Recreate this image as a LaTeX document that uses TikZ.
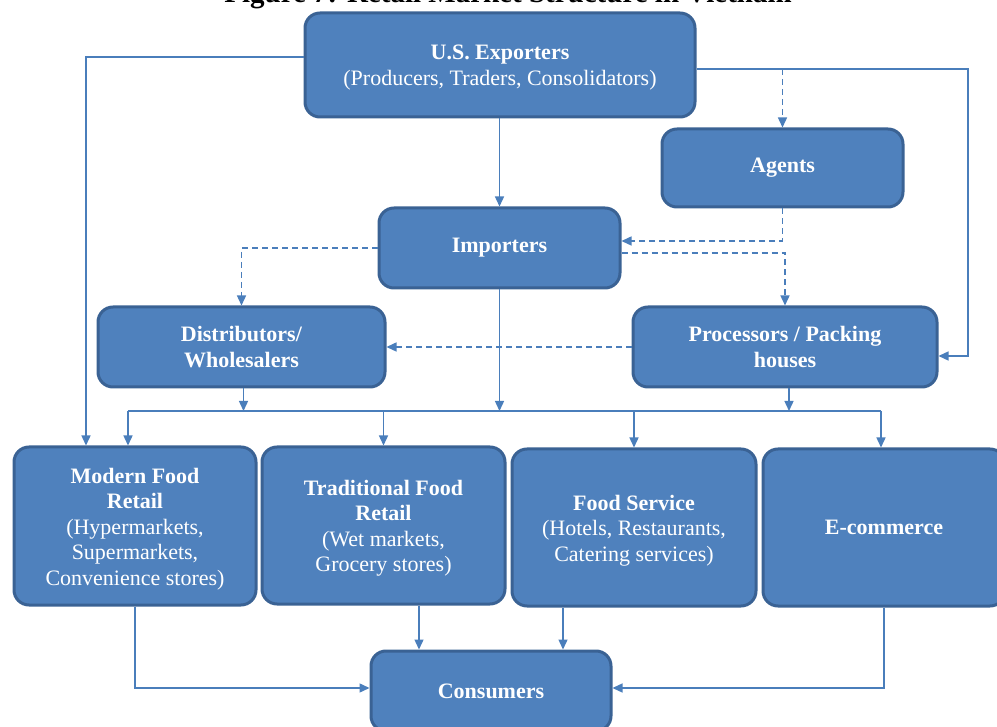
\documentclass[tikz,border=0pt]{standalone}
\usepackage{fontspec}
\setmainfont{Liberation Serif}
\usetikzlibrary{arrows.meta}
\definecolor{boxfill}{HTML}{4F81BD}
\definecolor{boxline}{HTML}{3A6294}
\definecolor{conncol}{HTML}{4A7EBB}
\tikzset{
  box/.style={draw=boxline, line width=3pt, fill=boxfill, rounded corners=15pt,
    text=white, align=center, inner sep=2pt,
    font=\fontsize{22}{25.5}\selectfont},
  conn/.style={draw=conncol, line width=1.4pt, -{Triangle[length=10pt,width=9pt]}},
  plainconn/.style={draw=conncol, line width=1.4pt},
  dconn/.style={conn, dash pattern=on 6pt off 4pt},
}
\begin{document}
\begin{tikzpicture}[x=1pt, y=-1pt]
\useasboundingbox (0,0) rectangle (997,727);
\clip (0,0) rectangle (997,727);

\node[anchor=base, font=\bfseries\fontsize{29}{32}\selectfont] (title) at (508,3) {Figure 7: Retail Market Structure in Vietnam};

\node[box, minimum width=390pt, minimum height=104pt] (exp) at (500,65)
  {\rule{0pt}{20pt}\textbf{U.S. Exporters}\\(Producers, Traders, Consolidators)};
\node[box, minimum width=241pt, minimum height=78pt] (agents) at (782.5,168) {\textbf{Agents}};
\node[box, minimum width=241pt, minimum height=80pt] (imp) at (499.5,248) {\textbf{Importers}};
\node[box, minimum width=287pt, minimum height=80pt] (dist) at (241.5,347) {\textbf{Distributors/}\\\textbf{Wholesalers}};
\node[box, minimum width=304pt, minimum height=80pt] (proc) at (785,347) {\textbf{Processors / Packing}\\\textbf{houses}};
\node[box, minimum width=242pt, minimum height=158pt] (modern) at (135,526)
  {\rule{0pt}{21pt}\textbf{Modern Food}\\\textbf{Retail}\\(Hypermarkets,\\Supermarkets,\\Convenience stores)};
\node[box, minimum width=243pt, minimum height=157pt] (trad) at (383.5,525.5)
  {\rule{0pt}{21pt}\textbf{Traditional Food}\\\textbf{Retail}\\(Wet markets,\\Grocery stores)};
\node[box, minimum width=244pt, minimum height=157pt] (fs) at (634,527.5)
  {\rule{0pt}{21pt}\textbf{Food Service}\\(Hotels, Restaurants,\\Catering services)};
\node[box, minimum width=242pt, minimum height=157pt] (ecom) at (884,527.5) {\textbf{E-commerce}};
\node[box, minimum width=240pt, minimum height=80pt] (cons) at (491,691) {\textbf{Consumers}};

% helper coordinates
\coordinate (r1) at (968,69);
\coordinate (r2) at (968,356);
\coordinate (b1) at (128,411);
\coordinate (b4) at (881,411);
\coordinate (t1) at (419,0);
\coordinate (f1) at (563,0);

% exporters
\draw[conn] ([yshift=8pt]exp.west) -| ([xshift=-49pt]modern.north);
\draw[conn] (exp.east |- r1) -- (r1) -- (r2) -- (proc.east |- r2);
\draw[dconn] (agents.north |- r1) -- (agents.north);
\draw[conn] (exp.south -| imp.north) -- (imp.north);

% agents / importers
\draw[dconn] (agents.south) |- ([yshift=7pt]imp.east);
\draw[dconn] ([yshift=-5pt]imp.east) -| (proc.north);
\draw[dconn] (imp.west) -| (dist.north);
\draw[dconn] (proc.west) -- (dist.east);

% bus
\draw[plainconn] (b1) -- (b4);
\draw[conn] ([xshift=2pt]dist.south) -- ([xshift=2pt]dist.south |- b1);
\draw[conn] (imp.south) -- (imp.south |- b1);
\draw[conn] ([xshift=4pt]proc.south) -- ([xshift=4pt]proc.south |- b1);
\draw[conn] (b1) -- (b1 |- modern.north);
\draw[conn] (trad.north |- b1) -- (trad.north);
\draw[conn] (fs.north |- b1) -- (fs.north);
\draw[conn] (b4) -- (b4 |- ecom.north);

% to consumers
\draw[conn] (modern.south) |- ([yshift=3pt]cons.west);
\draw[conn] (ecom.south) |- ([yshift=3pt]cons.east);
\draw[conn] (trad.south -| t1) -- (cons.north -| t1);
\draw[conn] (fs.south -| f1) -- (cons.north -| f1);
\end{tikzpicture}
\end{document}
